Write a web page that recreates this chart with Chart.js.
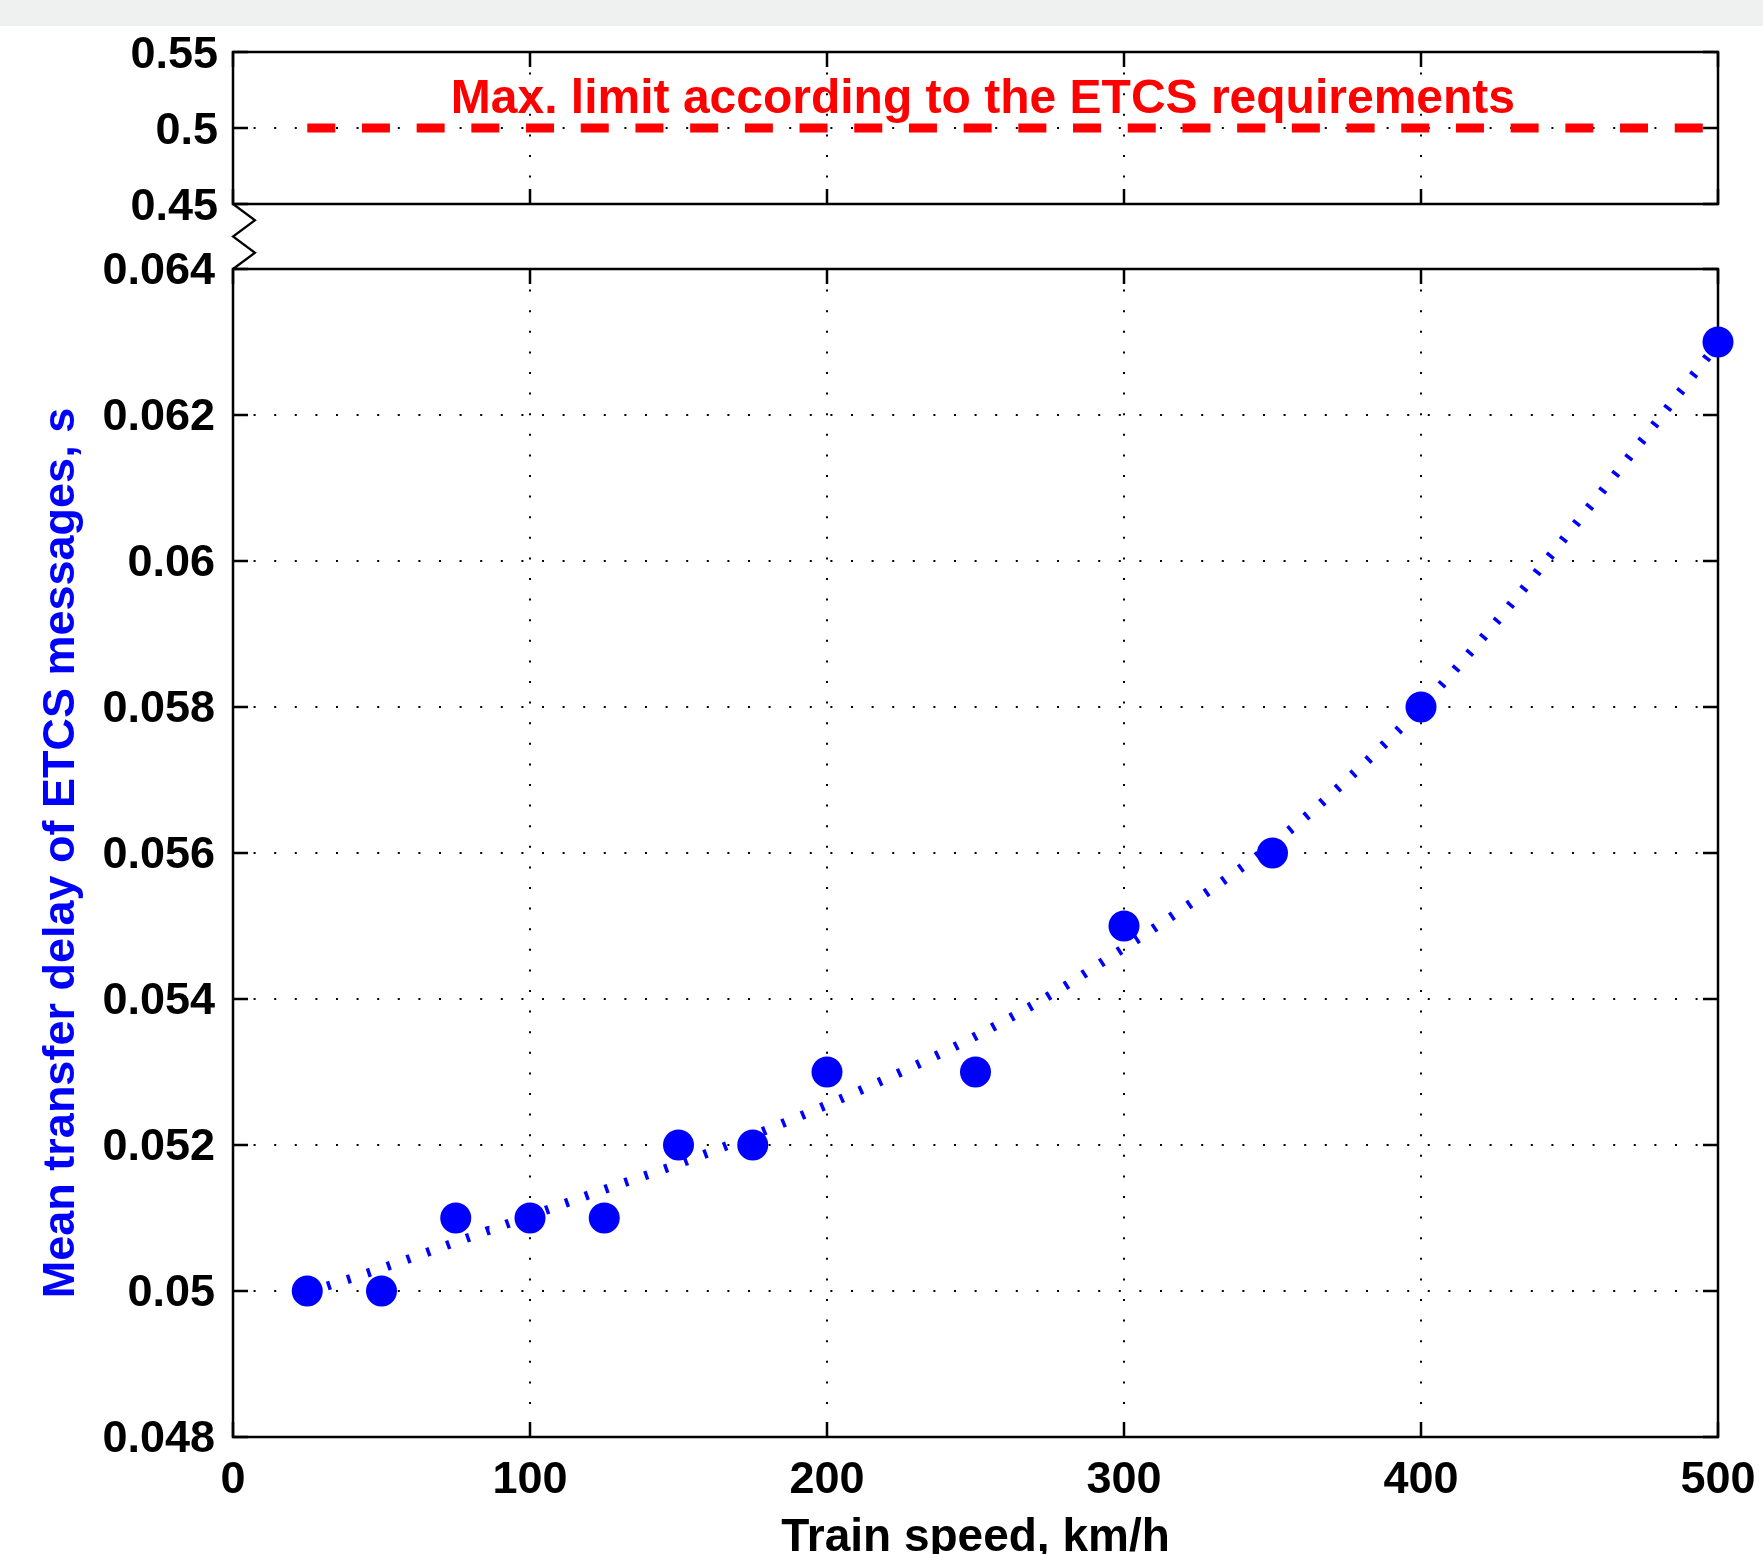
<!DOCTYPE html>
<html><head><meta charset="utf-8">
<script src="https://cdn.jsdelivr.net/npm/chart.js@4.4.0/dist/chart.umd.min.js"></script>
<style>
html,body{margin:0;padding:0;background:#fff;overflow:hidden;width:1763px;height:1554px;}
#band{position:absolute;left:0;top:0;width:1763px;height:26px;background:#eff1f0;}
#wt{position:absolute;left:0;top:0;width:1763px;height:280px;}
#wb{position:absolute;left:0;top:150px;width:1763px;height:1450px;}
</style></head><body>
<div id="band"></div>
<div id="wt"><canvas id="ct"></canvas></div>
<div id="wb"><canvas id="cb"></canvas></div>
<script>
// ---- data ----
const speeds = [25, 50, 75, 100, 125, 150, 175, 200, 250, 300, 350, 400, 500];
const delays = [0.050, 0.050, 0.051, 0.051, 0.051, 0.052, 0.052, 0.053, 0.053, 0.055, 0.056, 0.058, 0.063];
const fitSpeeds = [25, 50, 75, 100, 125, 150, 175, 200, 225, 250, 275, 300, 325, 350, 375, 400, 425, 450, 475, 500];
const fitDelays = [0.04998, 0.05031, 0.05067, 0.05103, 0.05139, 0.05174, 0.05213, 0.05255, 0.05300, 0.05349, 0.05405, 0.05470, 0.05538, 0.05612, 0.05700, 0.05800, 0.05915, 0.06040, 0.06168, 0.06298];
const limitSpeeds = [25, 500];
const limitValues = [0.5, 0.5];
const limitLabel = 'Max. limit according to the ETCS requirements';
const limitLabelX = 252.5;
const xTickValues = [0, 100, 200, 300, 400, 500];
const xTickLabels = ['0', '100', '200', '300', '400', '500'];
const yTopTickValues = [0.45, 0.5, 0.55];
const yTopTickLabels = ['0.45', '0.5', '0.55'];
const yBotTickValues = [0.048, 0.05, 0.052, 0.054, 0.056, 0.058, 0.06, 0.062, 0.064];
const yBotTickLabels = ['0.048', '0.05', '0.052', '0.054', '0.056', '0.058', '0.06', '0.062', '0.064'];
const xTitle = 'Train speed, km/h';
const yTitle = 'Mean transfer delay of ETCS messages, s';

// ---- helpers ----
const FONT = 'Liberation Sans';
const tickFont = {family: FONT, weight: 'bold', size: 45};
function labelFor(vals, labels) {
  return v => { for (let i = 0; i < vals.length; i++) if (Math.abs(vals[i] - v) < 1e-9) return labels[i]; return ''; };
}
function setTicks(vals) { return s => { s.ticks = vals.map(v => ({value: v})); }; }
function fixBox(w, h) {
  return s => {
    if (w !== null) s.width = w;
    if (h !== null) s.height = h;
    s.paddingLeft = 0; s.paddingRight = 0; s.paddingTop = 0; s.paddingBottom = 0;
  };
}
const gridOpts = {color: '#000', lineWidth: 2, drawTicks: false};
const borderOpts = {display: false, dash: [2, 18.6]};

const framePlugin = {
  id: 'frame',
  beforeDatasetsDraw(chart) {
    const {ctx, chartArea: a, scales} = chart;
    ctx.save();
    ctx.strokeStyle = '#000';
    ctx.lineWidth = 2.5;
    ctx.setLineDash([]);
    ctx.strokeRect(a.left, a.top, a.right - a.left, a.bottom - a.top);
    const tl = 15;
    ctx.beginPath();
    scales.x.ticks.forEach(t => {
      const px = scales.x.getPixelForValue(t.value);
      ctx.moveTo(px, a.bottom); ctx.lineTo(px, a.bottom - tl);
      ctx.moveTo(px, a.top); ctx.lineTo(px, a.top + tl);
    });
    scales.y.ticks.forEach(t => {
      const py = scales.y.getPixelForValue(t.value);
      ctx.moveTo(a.left, py); ctx.lineTo(a.left + tl, py);
      ctx.moveTo(a.right, py); ctx.lineTo(a.right - tl, py);
    });
    ctx.stroke();
    ctx.restore();
  }
};

const labelPlugin = {
  id: 'limitLabel',
  afterDatasetsDraw(chart) {
    const {ctx, scales} = chart;
    ctx.save();
    ctx.font = 'bold 48px "' + FONT + '"';
    ctx.fillStyle = '#ff0000';
    ctx.textAlign = 'center';
    ctx.textBaseline = 'alphabetic';
    ctx.fillText(limitLabel, scales.x.getPixelForValue(limitLabelX), scales.y.getPixelForValue(limitValues[0]) - 15);
    ctx.restore();
  }
};

const breakPlugin = {
  id: 'axisBreak',
  afterDraw(chart) {
    const {ctx, chartArea: a} = chart;
    const gap = 65, w = 22;
    ctx.save();
    ctx.strokeStyle = '#000';
    ctx.lineWidth = 2.2;
    ctx.setLineDash([]);
    ctx.beginPath();
    ctx.moveTo(a.left, a.top - gap);
    ctx.lineTo(a.left + w, a.top - gap * 0.75);
    ctx.lineTo(a.left, a.top - gap * 0.5);
    ctx.lineTo(a.left + w, a.top - gap * 0.25);
    ctx.lineTo(a.left, a.top);
    ctx.stroke();
    ctx.restore();
  }
};

// ---- top panel ----
new Chart(document.getElementById('ct'), {
  type: 'line',
  data: {
    datasets: [{
      data: limitSpeeds.map((x, i) => ({x, y: limitValues[i]})),
      borderColor: '#ff0000', borderWidth: 9, borderDash: [28, 26.7], borderCapStyle: 'butt',
      pointRadius: 0, fill: false, clip: false
    }]
  },
  options: {
    animation: false, responsive: true, maintainAspectRatio: false, devicePixelRatio: 1,
    layout: {padding: {left: 0, right: 45, top: 52, bottom: 76}},
    plugins: {legend: {display: false}, tooltip: {enabled: false}},
    scales: {
      x: {type: 'linear', min: 0, max: 500, afterBuildTicks: setTicks(xTickValues),
          ticks: {display: false}, grid: gridOpts, border: borderOpts,
          afterFit: fixBox(null, 0)},
      y: {type: 'linear', min: 0.45, max: 0.55, afterBuildTicks: setTicks(yTopTickValues),
          ticks: {callback: labelFor(yTopTickValues, yTopTickLabels), font: tickFont, color: '#000', padding: 15, labelOffset: 3.5},
          grid: gridOpts, border: borderOpts,
          afterFit: fixBox(233, null)}
    }
  },
  plugins: [framePlugin, labelPlugin]
});

// ---- bottom panel ----
new Chart(document.getElementById('cb'), {
  type: 'line',
  data: {
    datasets: [
      {
        data: speeds.map((x, i) => ({x, y: delays[i]})),
        showLine: false, pointRadius: 15.5, pointBackgroundColor: '#0000ff', pointBorderWidth: 0,
        pointBorderColor: '#0000ff', clip: false
      },
      {
        data: fitSpeeds.map((x, i) => ({x, y: fitDelays[i]})),
        borderColor: '#0000ff', borderWidth: 9, borderDash: [3.5, 17.5], borderCapStyle: 'butt',
        cubicInterpolationMode: 'monotone', pointRadius: 0, fill: false, clip: false
      }
    ]
  },
  options: {
    animation: false, responsive: true, maintainAspectRatio: false, devicePixelRatio: 1,
    layout: {padding: {left: 0, right: 45, top: 119, bottom: 0}},
    plugins: {legend: {display: false}, tooltip: {enabled: false}},
    scales: {
      x: {type: 'linear', min: 0, max: 500, afterBuildTicks: setTicks(xTickValues),
          ticks: {callback: labelFor(xTickValues, xTickLabels), font: tickFont, color: '#000', padding: 17, autoSkip: false, maxRotation: 0},
          grid: gridOpts, border: borderOpts,
          title: {display: true, text: xTitle, color: '#000', font: {family: FONT, weight: 'bold', size: 46}, padding: {top: 0, bottom: 34}},
          afterFit: fixBox(null, 163)},
      y: {type: 'linear', min: 0.048, max: 0.064, afterBuildTicks: setTicks(yBotTickValues),
          ticks: {callback: labelFor(yBotTickValues, yBotTickLabels), font: tickFont, color: '#000', padding: 18, autoSkip: false, labelOffset: 2.5},
          grid: gridOpts, border: borderOpts,
          title: {display: true, text: yTitle, color: '#0000ff', font: {family: FONT, weight: 'bold', size: 45}, padding: {top: 34.4, bottom: 0}},
          afterFit: fixBox(233, null)}
    }
  },
  plugins: [framePlugin, breakPlugin]
});
</script>
</body></html>
